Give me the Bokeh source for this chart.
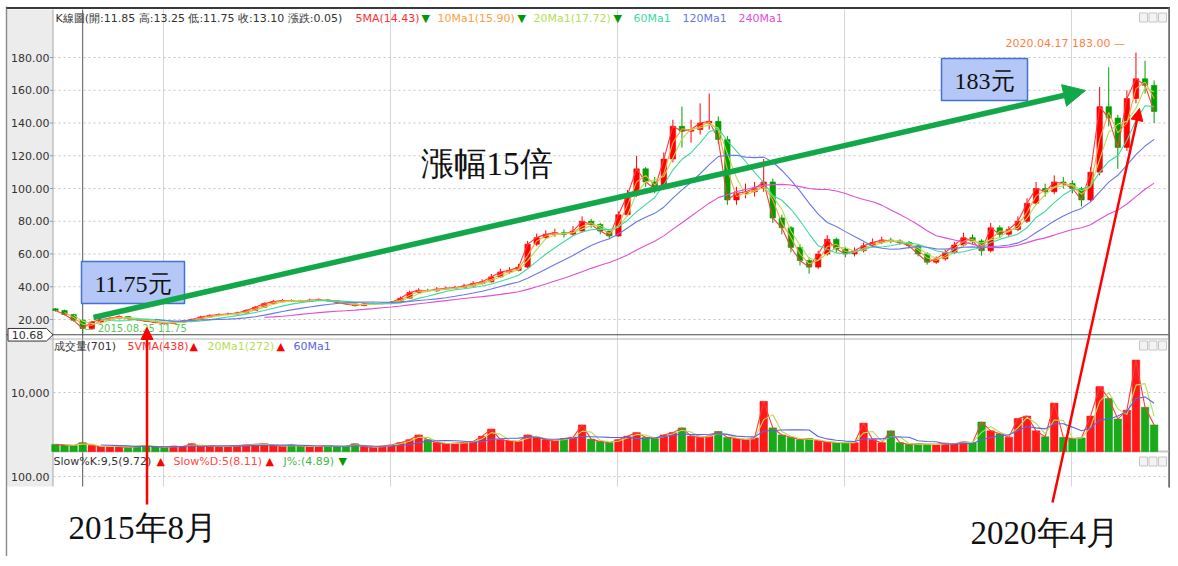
import numpy as np
import pandas as pd
from bokeh.plotting import figure
from bokeh.models import Range1d, ColumnDataSource, Arrow, NormalHead
from bokeh.core.properties import value
from bokeh.embed import file_html
from bokeh.resources import INLINE

# ---------------- data ----------------
# one candle per ~10 trading days, first one mid-July 2015, last one May 2020
first_bar_year = 2015.524
bar_step_years = 0.04
first_open = 26.5

closes = [25.5, 23, 19.5, 14.5, 18.5, 20, 20.8, 21.8, 20.5, 19.8,
          19, 18.2, 17.6, 18.2, 19, 20, 21.5, 22.4, 23, 23.4,
          24, 25.5, 27.5, 29.7, 30.9, 31.5, 31.3, 31, 31.8, 32,
          31.5, 30.5, 29.5, 28.5, 29.5, 29.7, 29.8, 30.5, 33, 36.5,
          37.8, 37.5, 38.5, 39, 39.5, 40.5, 42, 43, 46, 49,
          50, 52, 66, 70, 72, 73, 72, 74, 80, 78,
          74, 71, 84, 96, 112, 104, 100, 118, 138, 135,
          136, 140, 141, 130, 93, 97, 98, 100, 104, 82,
          76, 64, 56, 52, 60, 69, 63, 60, 62, 65,
          67, 68.5, 68, 67, 65, 60, 55, 57, 61, 65.5,
          70, 68, 62, 76, 72, 75, 80, 91, 100, 98,
          104, 103, 100, 93, 110, 150, 143, 125, 155, 167,
          163, 147]

highs = [27, 26, 23.5, 20, 19.2, 20.8, 21.5, 22.6, 22.2, 21,
         20.3, 19.5, 18.6, 18.8, 19.6, 20.6, 22.3, 23.2, 23.8, 24.2,
         24.8, 26.3, 28.3, 30.5, 31.8, 32.5, 32.3, 32, 32.6, 32.9,
         32.6, 31.9, 30.9, 29.9, 30.1, 30.4, 30.5, 31.2, 34, 37.6,
         39, 38.8, 39.8, 40.2, 40.6, 41.8, 43.4, 44.5, 47.8, 51,
         52, 54, 68, 72.5, 74.5, 75.5, 75, 77, 83, 81.5,
         79, 75, 86, 99, 120, 113, 107, 122, 142, 150,
         142, 152, 158, 144, 132, 101, 103, 104, 118, 106,
         84, 77, 66, 58, 62, 71.5, 70, 64.5, 64, 67,
         69.5, 70.5, 70, 69, 68, 66, 61, 58.5, 62.5, 67.5,
         73, 72, 69, 79, 77.5, 77, 83, 94, 104, 103,
         108, 107, 105, 101, 113, 162, 174, 145, 160, 183,
         178, 166]

lows = [24.8, 22.5, 18.8, 11.75, 14, 18, 19.6, 20.3, 20, 19.2,
        18.5, 17.6, 16.8, 17.2, 17.9, 18.7, 19.8, 21.2, 22, 22.6,
        23, 23.7, 25.2, 27.2, 29.3, 30.4, 30.7, 30.4, 30.6, 31.2,
        30.9, 29.9, 29, 27.8, 28.1, 29, 29.2, 29.4, 30.2, 32.6,
        36, 36.8, 37, 37.9, 38.4, 39, 40, 41.4, 42.5, 45.5,
        48, 49.5, 51.5, 65, 69, 70.5, 70, 71, 73, 76,
        72, 69, 70.5, 83, 95, 101, 97, 99, 116, 125,
        128, 133, 136, 127, 90, 90, 94, 95, 98, 79,
        72, 61, 53, 48, 51, 59, 61, 58, 58.5, 61,
        64, 66, 66.5, 65.5, 63.5, 58.5, 53.5, 54, 56, 60,
        64.5, 66, 59, 61, 70, 70.5, 74, 79, 90, 95,
        96.5, 100, 97, 89, 92, 108, 138, 112, 123, 152,
        158, 140]

volumes = [1200, 1100, 1000, 1500, 1000, 800, 900, 800, 700, 900,
           1000, 800, 700, 900, 800, 1300, 900, 1000, 800, 900,
           1000, 1100, 1200, 1300, 1000, 900, 1100, 900, 800, 900,
           1000, 800, 900, 1300, 800, 700, 900, 1100, 1500, 2000,
           2800, 2000, 1500, 1300, 1400, 1500, 1700, 2600, 3800, 2000,
           1800, 1700, 2800, 2400, 2000, 1800, 2200, 2400, 4500, 2100,
           1700, 1500, 2000, 2600, 3200, 2400, 2200, 2800, 3200, 4000,
           2600, 2400, 2600, 3400, 2400, 2200, 2000, 2300, 8500, 4000,
           2800, 2400, 2000, 2200, 1800, 1600, 1500, 1500, 1500, 4800,
           2000, 1500, 3500, 1500, 1200, 1300, 1200, 1200, 1400, 1300,
           1600, 1500, 5000, 3500, 3000, 2400, 5600, 6000, 3500, 2500,
           8200, 2400, 2200, 2300, 6000, 11000, 9000, 5500, 7000, 15500,
           7500, 4500]

price_ticks = [20, 40, 60, 80, 100, 120, 140, 160, 180]
price_tick_labels = ["20.00", "40.00", "60.00", "80.00", "100.00", "120.00",
                     "140.00", "160.00", "180.00"]
volume_ticks = [10000]
volume_tick_labels = ["10,000"]
kd_ticks = [100]
kd_tick_labels = ["100.00"]
year_lines = [2016, 2017, 2018, 2019, 2020]
panel_low = 10.68
low_bar_index = 3

# moving averages, windows in candles (each candle ~10 trading days)
ma_windows = [("5MA", 1, "#ff3b3b"), ("10Ma1", 2, "#ffa040"), ("20Ma1", 3, "#b5de55"),
              ("60Ma1", 6, "#3fd9a0"), ("120Ma1", 12, "#6a78e6"), ("240Ma1", 24, "#e04fd6")]
vol_ma_windows = [("5VMA", 1, "#ff3b3b"), ("20Ma1", 2, "#b5de55"), ("60Ma1", 6, "#5a64e8")]

# ---------------- layout (screen pixels of the 1178x566 picture) ----------------
W, H = 1170, 556
SX0, SX1 = 0, W
SY0, SY1 = 0, H
X_2016, PX_YEAR = 163.0, 227.0
Y_P20, PX_PRICE = 319.0, 1.6375
Y_V0, PX_VOL = 451.0, 59.0 / 10000
Y_KD100, PX_KD = 476.0, 0.85


def year_at(x):
    return 2016 + (x - X_2016) / PX_YEAR


def price_at(y):
    return 20 + (Y_P20 - y) / PX_PRICE


def vol_at(y):
    return (Y_V0 - y) / PX_VOL


def kd_at(y):
    return 100 - (y - Y_KD100) / PX_KD


p = figure(width=W, height=H, x_range=Range1d(SX0, SX1), y_range=Range1d(SY1, SY0),
           output_backend="svg", toolbar_location=None, min_border=0,
           x_axis_location=None, y_axis_location=None, outline_line_color=None,
           background_fill_color="white", border_fill_color="white")
p.extra_x_ranges = {"t": Range1d(year_at(SX0), year_at(SX1))}
p.extra_y_ranges = {"price": Range1d(price_at(SY1), price_at(SY0)),
                    "vol": Range1d(vol_at(SY1), vol_at(SY0)),
                    "kd": Range1d(kd_at(SY1), kd_at(SY0))}
p.grid.visible = False

SANS = value("DejaVu Sans")
SERIF = value("Liberation Serif")


def txt(x, y, s, color="#333333", size="11px", font=SANS, align="left", **kw):
    p.text(x=[x], y=[y], text=[s], text_color=color, text_font_size=size,
           text_font=font, text_align=align, text_baseline="middle", **kw)


# frame pieces
p.quad(left=6, right=52.5, top=9, bottom=486, fill_color="#ececec", line_color=None)
p.segment(x0=[52.5], x1=[52.5], y0=[9], y1=[486], line_color="#a8a8a8", line_width=1)
p.segment(x0=[6], x1=[6], y0=[6], y1=[566], line_color="#8a8a8a", line_width=1.4)
p.segment(x0=[6], x1=[1172], y0=[7.5], y1=[7.5], line_color="#3a3a3a", line_width=2)
p.segment(x0=[1169], x1=[1169], y0=[7], y1=[487], line_color="#6b6b6b", line_width=2.5)

# year grid lines and cursor line
p.segment(x0=year_lines, x1=year_lines, y0=9, y1=486, x_range_name="t",
          line_color="#d6d6d6", line_width=1)

n = len(closes)
t = first_bar_year + bar_step_years * np.arange(n)
p.segment(x0=[t[low_bar_index]], x1=[t[low_bar_index]], y0=[9], y1=[486], x_range_name="t",
          line_color="#555555", line_width=1)

# horizontal dashed grids
p.segment(x0=53, x1=1167, y0=price_ticks, y1=price_ticks, y_range_name="price",
          line_color="#c4c4c4", line_dash="2 3", line_width=1)
p.segment(x0=53, x1=1167, y0=volume_ticks, y1=volume_ticks, y_range_name="vol",
          line_color="#c4c4c4", line_dash="2 3", line_width=1)
p.segment(x0=53, x1=1167, y0=kd_ticks, y1=kd_ticks, y_range_name="kd",
          line_color="#c4c4c4", line_dash="2 3", line_width=1)

# panel separators
p.segment(x0=[6], x1=[1168], y0=[panel_low], y1=[panel_low], y_range_name="price",
          line_color="#4a4a4a", line_width=1.2)
p.segment(x0=[6], x1=[1168], y0=[338.5], y1=[338.5], line_color="#b4b4b4", line_width=1)
p.segment(x0=[53], x1=[1168], y0=[0], y1=[0], y_range_name="vol",
          line_color="#c8c8c8", line_width=2)

# tick labels
p.text(x=49, y=price_ticks, text=price_tick_labels, y_range_name="price", text_align="right",
       text_baseline="middle", text_font_size="11px", text_color="#333333", text_font=SANS)
p.text(x=49, y=volume_ticks, text=volume_tick_labels, y_range_name="vol", text_align="right",
       text_baseline="middle", text_font_size="11px", text_color="#333333", text_font=SANS)
p.text(x=49, y=kd_ticks, text=kd_tick_labels, y_range_name="kd", text_align="right",
       text_baseline="middle", text_font_size="11px", text_color="#333333", text_font=SANS)
p.segment(x0=49.5, x1=52.5, y0=price_ticks, y1=price_ticks, y_range_name="price",
          line_color="#999999")

# candles
opens = [first_open] + closes[:-1]
o = np.array(opens, dtype=float)
c = np.array(closes, dtype=float)
colors = np.where(c >= o, "#ff0000", "#00a000")
src = ColumnDataSource(dict(t=t, o=o, c=c, h=highs, l=lows,
                            top=np.maximum(o, c), bot=np.minimum(o, c),
                            color=colors, vol=volumes))
p.segment(x0="t", x1="t", y0="l", y1="h", source=src, line_color="color", line_width=1,
          x_range_name="t", y_range_name="price")
p.vbar(x="t", width=0.024, top="top", bottom="bot", source=src, fill_color="color",
       line_color="color", line_width=0.6, x_range_name="t", y_range_name="price")

close_s = pd.Series(closes, dtype=float)
for name, win, col in ma_windows:
    ma = close_s.rolling(win).mean().to_numpy()
    p.line(t, ma, line_color=col, line_width=1.1, x_range_name="t", y_range_name="price")

# volume
p.vbar(x="t", width=0.033, top="vol", bottom=0, source=src, fill_color="color",
       line_color="color", line_width=0.5, fill_alpha=0.9, x_range_name="t", y_range_name="vol")
vol_s = pd.Series(volumes, dtype=float)
for name, win, col in vol_ma_windows:
    vma = vol_s.rolling(win).mean().to_numpy()
    p.line(t, vma, line_color=col, line_width=1.1, x_range_name="t", y_range_name="vol")

# "10.68" marker
y_low = 319 + (20 - panel_low) * PX_PRICE
p.patch(x=[7.5, 46, 52.5, 46, 7.5], y=[y_low - 6.3, y_low - 6.3, y_low, y_low + 6.3, y_low + 6.3],
        fill_color="white", line_color="#333333", line_width=1)
p.text(x=[27], y=[panel_low], text=["10.68"], y_range_name="price", text_align="center",
       text_baseline="middle", text_font_size="11px", text_color="#333333", text_font=SANS)

# panel headers
for s, x, col in [("K線圖(開:11.85 高:13.25 低:11.75 收:13.10 漲跌:0.05)", 55, "#333333"),
                  ("5MA(14.43)", 355, "#ff3030"), ("▼", 421, "#009a00"),
                  ("10Ma1(15.90)", 437, "#ffa040"), ("▼", 517, "#009a00"),
                  ("20Ma1(17.72)", 533, "#b5de55"), ("▼", 613, "#009a00"),
                  ("60Ma1", 633, "#3fd9a0"), ("120Ma1", 682, "#6a78e6"),
                  ("240Ma1", 738, "#e04fd6")]:
    txt(x, 17.5, s, col)
for s, x, col in [("成交量(701)", 53, "#333333"), ("5VMA(438)", 127, "#ff3030"),
                  ("▲", 189, "#ff0000"), ("20Ma1(272)", 207, "#b5de55"),
                  ("▲", 276, "#ff0000"), ("60Ma1", 293, "#5a64e8")]:
    txt(x, 345.5, s, col)
for s, x, col in [("Slow%K:9,5(9.72)", 53, "#333333"), ("▲", 156, "#ff0000"),
                  ("Slow%D:5(8.11)", 173, "#ff4848"), ("▲", 265, "#ff0000"),
                  ("J%:(4.89)", 283, "#3fb84a"), ("▼", 338, "#009a00")]:
    txt(x, 460.5, s, col)

# small window buttons at the right of each panel
for yb in (17, 345, 461):
    p.quad(left=[1139, 1148.5, 1158], right=[1147, 1156.5, 1166], top=yb - 4.5, bottom=yb + 4.5,
           fill_color="#f3f3f3", line_color="#c6c6c6", line_width=1)

# value labels inside the price panel
txt(1005, 43, "2020.04.17  183.00 —", "#ff8040")
txt(84, 327.5, "— 2015.08.25    11.75", "#5cc85c", size="10px")

# annotation boxes and texts
p.quad(left=[81, 941], right=[184, 1027], top=[261, 58], bottom=[303, 100],
       fill_color="#b4c7f7", line_color="#4472d0", line_width=1.5)
txt(132.5, 283, "11.75元", "#111111", size="24px", font=SERIF, align="center")
txt(984, 80, "183元", "#111111", size="24px", font=SERIF, align="center")
txt(420, 163, "漲幅15倍", "#111111", size="33px", font=SERIF)
txt(68, 527, "2015年8月", "#111111", size="33px", font=SERIF)
txt(970, 532, "2020年4月", "#111111", size="33px", font=SERIF)

GREEN = "#12a84a"
p.add_layout(Arrow(end=NormalHead(size=22, fill_color=GREEN, line_color=GREEN),
                   x_start=93, y_start=317, x_end=1085, y_end=90,
                   line_color=GREEN, line_width=5.5))
RED = "#ff0000"
p.add_layout(Arrow(end=NormalHead(size=12, fill_color=RED, line_color=RED),
                   x_start=146.5, y_start=504, x_end=146.5, y_end=327,
                   line_color=RED, line_width=2.5))
p.add_layout(Arrow(end=NormalHead(size=12, fill_color=RED, line_color=RED),
                   x_start=1052, y_start=502, x_end=1139, y_end=108,
                   line_color=RED, line_width=2.5))

open("out.html", "w").write(file_html(p, INLINE))
